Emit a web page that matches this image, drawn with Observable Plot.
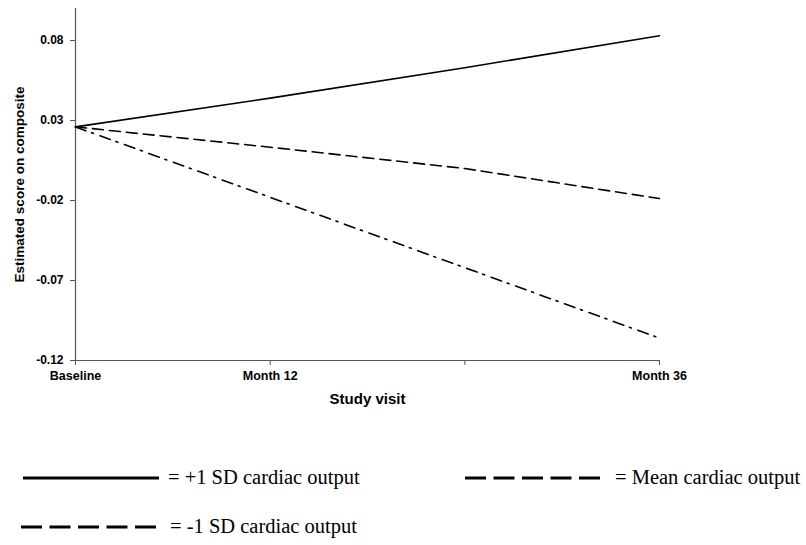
<!DOCTYPE html>
<html>
<head>
<meta charset="utf-8">
<script src="https://cdn.jsdelivr.net/npm/d3@7"></script>
<script src="https://cdn.jsdelivr.net/npm/@observablehq/plot@0.6"></script>
<style>
  body { margin: 0; background: #fff; }
  #wrap { position: relative; width: 806px; height: 545px; background: #fff; overflow: hidden; }
  #chart { position: absolute; left: 0; top: 0; }
  .leg { position: absolute; height: 24px; display: flex; align-items: center;
         font-family: "Liberation Serif", "Times New Roman", "DejaVu Serif", serif; font-size: 20.5px; color: #000; white-space: nowrap; }
  .leg svg { display: block; }
</style>
</head>
<body>
<div id="wrap">
  <div id="chart"></div>
</div>
<script>
// ---- data ----
const visits = [0, 12, 24, 36];
const xTickLabels = ["Baseline", "Month 12", "", "Month 36"];
const yTicks = [-0.12, -0.07, -0.02, 0.03, 0.08];
const plus1SD = [0.026, 0.044, 0.063, 0.083];
const meanCO = [0.026, 0.0133, 0.0, -0.0188];
const minus1SD = [0.026, -0.018, -0.062, -0.106];
const seriesNames = ["+1 SD cardiac output", "Mean cardiac output", "-1 SD cardiac output"];
const legendLabels = ["= +1 SD cardiac output", "= Mean cardiac output", "= -1 SD cardiac output"];

const toRows = (vals, name) => visits.map((v, i) => ({visit: v, score: vals[i], series: name}));
const rowsPlus = toRows(plus1SD, seriesNames[0]);
const rowsMean = toRows(meanCO, seriesNames[1]);
const rowsMinus = toRows(minus1SD, seriesNames[2]);

const axisFont = "'Liberation Sans', Arial, sans-serif";

const plot = Plot.plot({
  width: 806,
  height: 420,
  marginLeft: 75,
  marginRight: 147,
  marginTop: 8,
  marginBottom: 60,
  style: {fontFamily: axisFont, fontSize: "12px", fontWeight: "bold", color: "#000", background: "#fff"},
  x: {domain: [0, 36]},
  y: {domain: [-0.12, 0.1]},
  marks: [
    Plot.axisY({
      ticks: yTicks, tickSize: 5, tickPadding: 7,
      tickFormat: d => d.toFixed(2),
      label: "Estimated score on composite", labelAnchor: "center", labelOffset: 61,
      stroke: "#555"
    }),
    Plot.axisX({
      ticks: visits, tickSize: 5, tickPadding: 6,
      tickFormat: (d) => xTickLabels[visits.indexOf(d)],
      label: "Study visit", labelAnchor: "center", labelOffset: 43,
      stroke: "#555"
    }),
    Plot.ruleX([0], {stroke: "#555", strokeWidth: 1.2}),
    Plot.ruleY([-0.12], {stroke: "#555", strokeWidth: 1.2}),
    Plot.line(rowsPlus, {x: "visit", y: "score", stroke: "#000", strokeWidth: 1.6}),
    Plot.line(rowsMean, {x: "visit", y: "score", stroke: "#000", strokeWidth: 1.6, strokeDasharray: "11,6"}),
    Plot.line(rowsMinus, {x: "visit", y: "score", stroke: "#000", strokeWidth: 1.6, strokeDasharray: "11,6,2,7"})
  ]
});
document.getElementById("chart").appendChild(plot);

// axis label styling (strip default arrows)
d3.select(plot).selectAll('g[aria-label="y-axis label"] text')
  .style("font-size", "13.5px")
  .each(function() { this.textContent = this.textContent.replace(/\s*[↑↓→←]\s*/g, "").trim(); });
d3.select(plot).selectAll('g[aria-label="x-axis label"] text')
  .style("font-size", "15px")
  .each(function() { this.textContent = this.textContent.replace(/\s*[↑↓→←]\s*/g, "").trim(); });
d3.select(plot).selectAll('g[aria-label="x-axis tick label"] text').style("font-size", "12.5px");

// ---- legend (HTML below the SVG) ----
const legendItems = [
  {label: legendLabels[0], dash: null, lineX: 23, lineW: 136, textX: 168, y: 478},
  {label: legendLabels[1], dash: "21,7.5", lineX: 465, lineW: 137, textX: 615, y: 478},
  {label: legendLabels[2], dash: "21,7.5", lineX: 21, lineW: 135, textX: 170, y: 527}
];
const wrap = document.getElementById("wrap");
legendItems.forEach(it => {
  const sw = document.createElement("div");
  sw.className = "leg";
  sw.style.left = it.lineX + "px";
  sw.style.top = (it.y - 12) + "px";
  sw.innerHTML = `<svg width="${it.lineW}" height="24"><line x1="0" x2="${it.lineW}" y1="12" y2="12" stroke="#000" stroke-width="3" ${it.dash ? `stroke-dasharray="${it.dash}"` : ""}/></svg>`;
  wrap.appendChild(sw);
  const tx = document.createElement("div");
  tx.className = "leg";
  tx.style.left = it.textX + "px";
  tx.style.top = (it.y - 13) + "px";
  tx.textContent = it.label;
  wrap.appendChild(tx);
});
</script>
</body>
</html>
